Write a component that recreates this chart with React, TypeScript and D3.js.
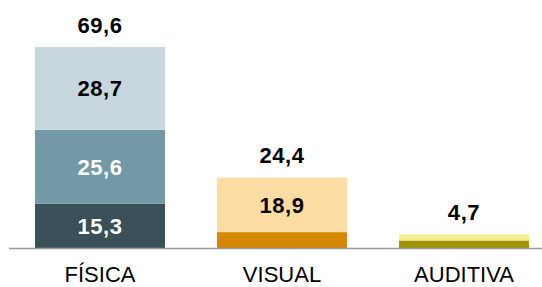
import React from "react";
import * as d3 from "d3";

const categories = ["FÍSICA", "VISUAL", "AUDITIVA"];
const bottomValues = [15.3, 5.5, 2.6];
const middleValues = [25.6, 0, 0];
const topValues = [28.7, 18.9, 2.1];
const totals = [69.6, 24.4, 4.7];
// which segment labels are shown in the picture
const showLabel = [
  [true, true, true],
  [false, false, true],
  [false, false, false],
];
const colors = [
  ["#3a5058", "#7299a5", "#c8d7dd"],
  ["#d48800", "#d48800", "#fedda4"],
  ["#9e9400", "#9e9400", "#f5ee90"],
];
const labelColors = [
  ["#ffffff", "#ffffff", "#000000"],
  ["#000000", "#000000", "#000000"],
  ["#000000", "#000000", "#000000"],
];

const width = 542;
const height = 287;
const baseY = 248;
const fmt = (v: number) => v.toFixed(1).replace(".", ",");

export default function App() {
  const rows = categories.map((c, i) => ({
    cat: c,
    bottom: bottomValues[i],
    middle: middleValues[i],
    top: topValues[i],
  }));
  const keys = ["bottom", "middle", "top"];
  const stacked = d3.stack<any>().keys(keys)(rows);

  const x = d3
    .scaleBand()
    .domain(categories)
    .range([9, 555])
    .paddingInner(0.286)
    .paddingOuter(0.143);
  const y = d3.scaleLinear().domain([0, 70]).range([baseY, baseY - 70 * 2.89]);

  const font = "'Liberation Sans', Arial, sans-serif";

  return (
    <div style={{ position: "fixed", left: 0, top: 0 }}>
      <svg width={width} height={height} style={{ display: "block" }}>
        <rect width={width} height={height} fill="#ffffff" />
        {stacked.map((layer, li) =>
          layer.map((d, ci) => {
            const h = y(d[0]) - y(d[1]);
            if (h <= 0) return null;
            return (
              <rect
                key={`${li}-${ci}`}
                x={x(categories[ci])}
                y={y(d[1])}
                width={x.bandwidth()}
                height={h}
                fill={colors[ci][li]}
              />
            );
          })
        )}
        <line x1={9} x2={542} y1={baseY + 0.5} y2={baseY + 0.5} stroke="#999999" strokeWidth={1.5} />
        {stacked.map((layer, li) =>
          layer.map((d, ci) =>
            showLabel[ci][li] ? (
              <text
                key={`l-${li}-${ci}`}
                x={(x(categories[ci]) ?? 0) + x.bandwidth() / 2}
                y={(y(d[0]) + y(d[1])) / 2}
                dy="0.36em"
                textAnchor="middle"
                fontFamily={font}
                fontWeight="bold"
                fontSize={22}
                letterSpacing={0.6}
                fill={labelColors[ci][li]}
              >
                {fmt(d[1] - d[0])}
              </text>
            ) : null
          )
        )}
        {totals.map((t, ci) => (
          <text
            key={`t-${ci}`}
            x={(x(categories[ci]) ?? 0) + x.bandwidth() / 2}
            y={y(t) - 22}
            dy="0.36em"
            textAnchor="middle"
            fontFamily={font}
            fontWeight="bold"
            fontSize={22}
            letterSpacing={0.6}
            fill="#000000"
          >
            {fmt(t)}
          </text>
        ))}
        {categories.map((c) => (
          <text
            key={`c-${c}`}
            x={(x(c) ?? 0) + x.bandwidth() / 2}
            y={282}
            textAnchor="middle"
            fontFamily={font}
            fontSize={22}
            fill="#000000"
          >
            {c}
          </text>
        ))}
      </svg>
    </div>
  );
}
